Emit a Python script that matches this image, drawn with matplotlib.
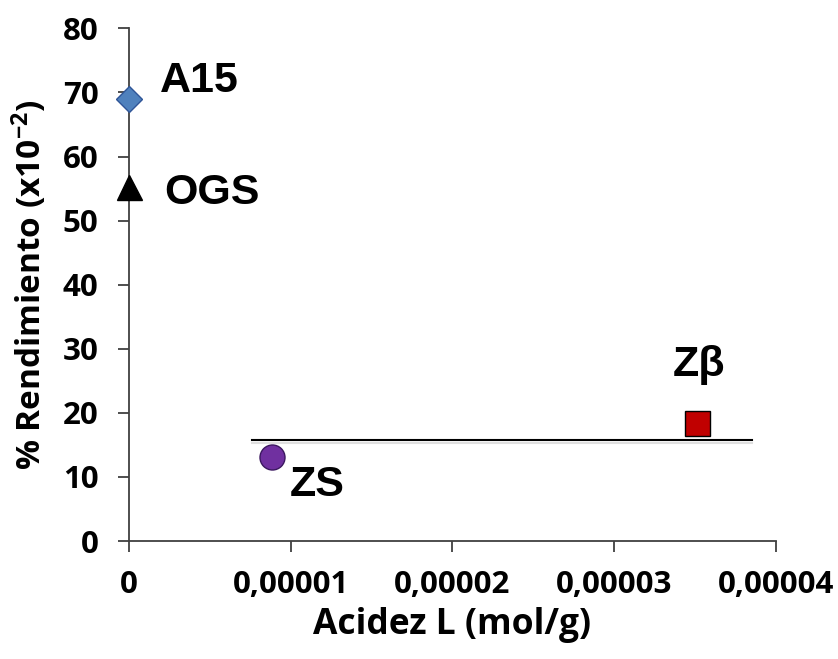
import matplotlib
matplotlib.use("Agg")
import matplotlib.pyplot as plt
import matplotlib.patheffects as pe
from matplotlib.ticker import FixedLocator, FixedFormatter

# data
names = ["A15", "OGS", "ZS", "Z\u03b2"]
acidez = [0.0, 0.0, 0.00000884, 0.0000351]
rendimiento = [69.0, 55.3, 13.1, 18.4]
markers = ["D", "^", "o", "s"]
face_colors = ["#4F81BD", "#000000", "#7030A0", "#C00000"]
edge_colors = ["#2F5597", "#000000", "#3B1760", "#000000"]
sizes = [13, 18, 18, 18]

# label anchors (left, centre) in data units
label_x = [0.0000019, 0.0000022, 0.00000995, 0.0000336]
label_y = [71.8, 54.3, 8.7, 27.5]

# the flat line drawn across the chart
line_x = [0.0000076, 0.0000385]
line_y = [15.7, 15.7]

xticks = [0, 0.00001, 0.00002, 0.00003, 0.00004]
xtick_labels = ["0", "0,00001", "0,00002", "0,00003", "0,00004"]
yticks = [0, 10, 20, 30, 40, 50, 60, 70, 80]

plt.rcParams["mathtext.default"] = "regular"

fig = plt.figure(figsize=(8.38, 6.59), dpi=100)
ax = fig.add_axes([0.1539, 0.179, 0.772, 0.778])

ax.plot(line_x, line_y, color="black", lw=1.5, zorder=2,
        path_effects=[pe.SimpleLineShadow(offset=(0, -2), alpha=0.25, shadow_color="gray"),
                      pe.Normal()])

for xv, yv, m, fc, ec, s in zip(acidez, rendimiento, markers, face_colors, edge_colors, sizes):
    ax.plot([xv], [yv], marker=m, ms=s, mfc=fc, mec=ec, mew=1.0,
            ls="none", clip_on=False, zorder=4)

for nm, tx, ty in zip(names, label_x, label_y):
    ax.text(tx, ty, nm, fontsize=31, fontweight="bold", family="Liberation Sans",
            ha="left", va="center", color="black")

ax.set_xlim(0, 0.00004)
ax.set_ylim(0, 80)
ax.xaxis.set_major_locator(FixedLocator(xticks))
ax.xaxis.set_major_formatter(FixedFormatter(xtick_labels))
ax.set_yticks(yticks)

for side in ["top", "right"]:
    ax.spines[side].set_visible(False)
for side in ["left", "bottom"]:
    ax.spines[side].set_color("#404040")
    ax.spines[side].set_linewidth(1.3)

ax.tick_params(axis="both", direction="out", length=8, width=1.3, color="#404040")
ax.tick_params(axis="x", pad=13)
ax.tick_params(axis="y", pad=14)
for lbl in ax.get_xticklabels() + ax.get_yticklabels():
    lbl.set_family("Open Sans")
    lbl.set_fontweight("bold")
    lbl.set_fontsize(22.5)
    lbl.set_color("#000000")

ax.set_xlabel("Acidez L (mol/g)", family="Open Sans", fontweight="bold", fontsize=25.5, labelpad=5)
ax.set_ylabel("% Rendimiento (x10$^{-2}$)", family="Open Sans", fontweight="bold",
              fontsize=24, labelpad=10)

fig.savefig("out.png", dpi=100)
